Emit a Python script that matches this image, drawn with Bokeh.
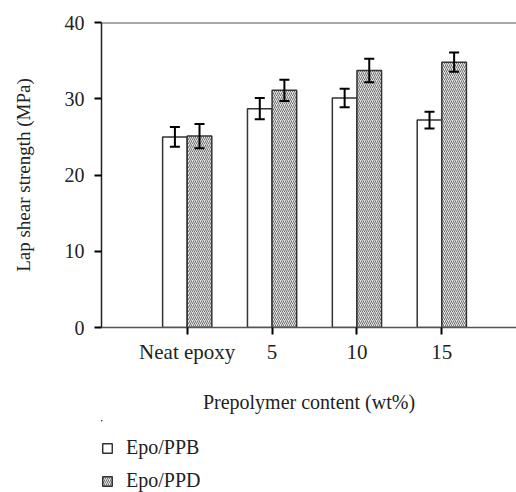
import numpy as np
from bokeh.plotting import figure
from bokeh.layouts import column
from bokeh.models import (ColumnDataSource, Whisker, TeeHead, FixedTicker, Range1d,
                          Legend, LegendItem, Span)
from bokeh.embed import file_html
from bokeh.resources import INLINE

categories = ["Neat epoxy", "5", "10", "15"]
series_names = ["Epo/PPB", "Epo/PPD"]
ppb_values = [25.0, 28.7, 30.1, 27.2]
ppb_errors = [1.3, 1.4, 1.2, 1.1]
ppd_values = [25.1, 31.1, 33.7, 34.8]
ppd_errors = [1.6, 1.4, 1.55, 1.25]
y_ticks = [0, 10, 20, 30, 40]

FONT = "Liberation Serif"
bar_w = 0.29
xi = np.arange(len(categories))

src_b = ColumnDataSource(dict(
    x=xi - bar_w / 2, top=ppb_values,
    upper=[v + e for v, e in zip(ppb_values, ppb_errors)],
    lower=[v - e for v, e in zip(ppb_values, ppb_errors)]))
src_d = ColumnDataSource(dict(
    x=xi + bar_w / 2, top=ppd_values,
    upper=[v + e for v, e in zip(ppd_values, ppd_errors)],
    lower=[v - e for v, e in zip(ppd_values, ppd_errors)]))

style_b = dict(fill_color="white", line_color="#333333", line_width=1.5)
style_d = dict(fill_color="#e4e4e4", line_color="#333333", line_width=1.5,
               hatch_pattern="/", hatch_color="#707070", hatch_scale=4, hatch_weight=1.0)

p = figure(width=516, height=420, output_backend="svg", toolbar_location=None,
           x_range=Range1d(-1.01, 3.88), y_range=Range1d(0, 40),
           min_border_left=101, min_border_top=22, min_border_right=0,
           min_border_bottom=93)
p.outline_line_color = None
p.xgrid.visible = False
p.ygrid.visible = False

p.vbar(x="x", top="top", bottom=0, width=bar_w, source=src_b, **style_b)
p.vbar(x="x", top="top", bottom=0, width=bar_w, source=src_d, **style_d)

for s in (src_b, src_d):
    w = Whisker(base="x", upper="upper", lower="lower", source=s,
                line_color="black", line_width=2, level="overlay",
                upper_head=TeeHead(size=10, line_width=2, line_color="black"),
                lower_head=TeeHead(size=10, line_width=2, line_color="black"))
    p.add_layout(w)

p.add_layout(Span(location=40, dimension="width", line_color="#555555", line_width=2))

# x axis
p.xaxis.ticker = FixedTicker(ticks=list(xi))
p.xaxis.major_label_overrides = {int(i): c for i, c in zip(xi, categories)}
p.xaxis.axis_label = "Prepolymer content (wt%)"
p.xaxis.axis_line_color = "#555555"
p.xaxis.axis_line_width = 1.5
p.xaxis.major_tick_line_color = "black"
p.xaxis.major_tick_line_width = 2
p.xaxis.major_tick_in = 0
p.xaxis.major_tick_out = 7
p.xaxis.minor_tick_line_color = None
p.xaxis.major_label_standoff = 5
p.xaxis.axis_label_standoff = 24
p.xaxis.major_label_text_font_size = "21px"
p.xaxis.axis_label_text_font_size = "20px"

# y axis
p.yaxis.ticker = FixedTicker(ticks=y_ticks)
p.yaxis.axis_label = "Lap shear strength (MPa)"
p.yaxis.axis_line_color = "#222222"
p.yaxis.axis_line_width = 1.5
p.yaxis.major_tick_line_color = "black"
p.yaxis.major_tick_line_width = 2
p.yaxis.major_tick_in = 0
p.yaxis.major_tick_out = 7
p.yaxis.minor_tick_line_color = None
p.yaxis.major_label_standoff = 10
p.yaxis.axis_label_standoff = 28
p.yaxis.major_label_text_font_size = "20px"
p.yaxis.axis_label_text_font_size = "19px"

for ax in (p.xaxis, p.yaxis):
    ax.major_label_text_font = FONT
    ax.major_label_text_color = "#222222"
    ax.axis_label_text_font = FONT
    ax.axis_label_text_font_style = "normal"
    ax.axis_label_text_color = "#222222"

# legend strip below the chart (its frame is aligned with the chart frame);
# the same bar sources are reused, with ranges that keep the bars out of view
pl = figure(width=516, height=72, output_backend="svg", toolbar_location=None,
            x_range=Range1d(4.5, 5.5), y_range=Range1d(-20, -10),
            x_axis_location=None, y_axis_location=None,
            min_border_left=0, min_border_right=0, min_border_top=0, min_border_bottom=0)
pl.outline_line_color = None
pl.xgrid.visible = False
pl.ygrid.visible = False
lb = pl.vbar(x="x", top="top", bottom=0, width=bar_w, source=src_b, **style_b)
ld = pl.vbar(x="x", top="top", bottom=0, width=bar_w, source=src_d, **style_d)

legend = Legend(items=[LegendItem(label=series_names[0], renderers=[lb]),
                       LegendItem(label=series_names[1], renderers=[ld])],
                location=(0, 0), orientation="vertical",
                glyph_width=12, glyph_height=12, label_height=20, spacing=10,
                label_standoff=13, padding=0, margin=0,
                border_line_color=None, background_fill_alpha=0,
                label_text_font=FONT, label_text_font_size="20px",
                label_text_color="#222222")
pl.add_layout(legend)

layout = column(p, pl, spacing=0)
open("out.html", "w").write(file_html(layout, INLINE))
